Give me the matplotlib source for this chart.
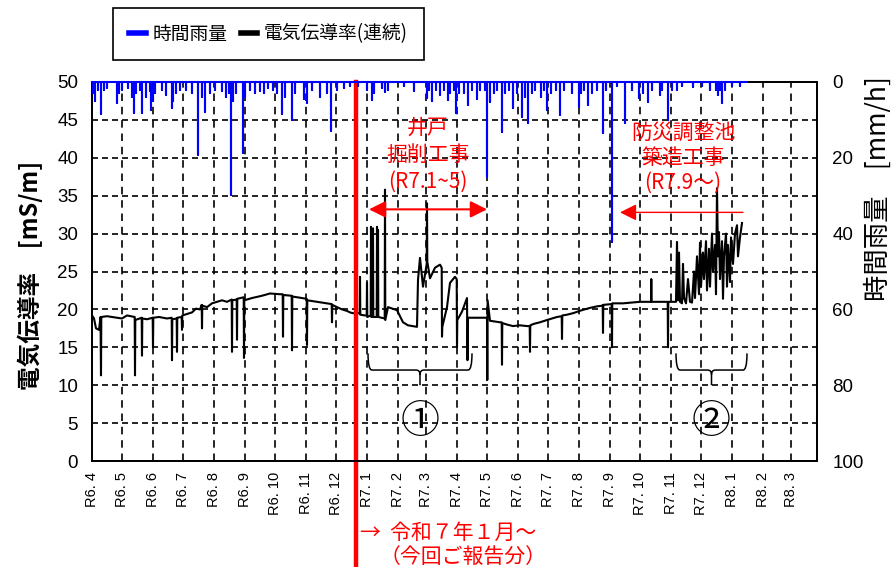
import numpy as np
import pandas as pd
import matplotlib
matplotlib.use("Agg")
import matplotlib.pyplot as plt
from matplotlib import font_manager
from matplotlib.lines import Line2D
from matplotlib.path import Path
from matplotlib.patches import PathPatch

# x axis = days since R6.4.1 (2024-04-01)
BASE = pd.Timestamp("2024-04-01")

# 電気伝導率 (連続) [mS/m]
cond_day = [0, 2, 4, 7, 8.5, 9, 9.3, 15, 20, 25, 30, 35, 42.7, 43, 43.3, 49.7, 50, 50.3, 55,
            60.7, 61, 61.3, 67, 75, 79.7, 80, 80.3, 84.7, 85, 85.3, 89.7, 90, 90.3, 95, 100, 104,
            108, 109.7, 110, 110.3, 115, 120, 125, 130, 135, 139.7, 140, 140.3, 144.7, 145, 145.3,
            151.7, 152, 152.3, 160, 170, 178, 188, 190.7, 191, 191.3, 199.7, 200, 200.3, 205,
            214.7, 215, 215.3, 225, 230, 239.7, 240, 240.3, 245, 250, 255, 258, 261,
            267.7, 268, 268.3, 273, 274.7, 275, 275.3, 278.7, 279, 279.3, 280.7, 281, 281.3,
            284.7, 285, 285.3, 285.7, 286, 286.3, 292.7, 293, 293.3, 296, 305, 311, 316, 325, 326,
            328, 331, 334.7, 335, 335.3, 338, 343, 348, 349.7, 350, 350.3, 355, 358, 363, 364.7,
            365, 365.3, 370, 375, 375.5, 376, 395, 395.3, 395.6, 398, 403, 408, 409.7, 410, 410.3,
            415, 421, 428, 435, 437.7, 438, 438.3, 442, 448, 455, 465, 469.7, 470, 470.3, 475, 481,
            490, 498, 505, 510.7, 511, 511.3, 519.7, 520, 520.3, 531, 540, 548, 559, 559.3, 559.6,
            575.7, 576, 576.3, 584, 585, 586, 587, 588, 590, 591, 592, 594, 596, 598, 600, 602,
            603, 605, 607, 608, 609, 611, 612, 614, 615, 617, 618, 620, 621, 623, 624, 625, 626,
            627, 628, 630, 631, 632, 634, 635, 636, 638, 639, 641, 643, 645, 646, 648, 650]
cond_val = [19.2, 18.8, 17.5, 17.3, 19.0, 11.3, 19.0, 19.1, 19.0, 18.9, 18.8, 19.2, 19.0, 11.3,
            18.6, 18.9, 13.9, 18.8, 18.7, 18.9, 15.0, 18.9, 19.0, 18.8, 18.9, 13.3, 18.7, 18.8,
            14.4, 18.9, 19.0, 17.3, 19.2, 19.4, 19.6, 20.1, 20.0, 20.6, 17.5, 20.5, 20.3, 20.8,
            21.0, 21.2, 21.0, 21.3, 14.4, 21.2, 21.3, 16.0, 21.4, 21.6, 13.6, 21.2, 21.5, 21.8,
            22.1, 22.0, 22.0, 16.4, 21.9, 21.8, 14.6, 21.7, 21.6, 21.4, 15.3, 21.2, 21.0, 20.9,
            20.7, 18.3, 20.6, 20.3, 20.0, 19.8, 19.6, 19.5,
            19.5, 24.3, 19.3, 19.2, 19.2, 23.5, 19.0, 19.2, 30.9, 19.0, 19.1, 30.7, 19.0,
            19.0, 30.9, 19.0, 19.1, 30.5, 19.0, 18.8, 35.8, 18.6, 20.3, 19.9, 18.3, 17.9, 17.7,
            23.9, 26.8, 23.0, 26.0, 34.0, 26.3, 24.1, 25.5, 25.9, 25.5, 16.4, 17.7, 20.3, 23.5,
            24.3, 24.0, 15.0, 18.6, 19.7, 21.5, 13.3, 18.9, 18.9, 10.7, 21.2, 18.5, 18.4, 18.3,
            18.3, 12.7, 18.2, 18.0, 17.8, 17.9, 17.8, 17.8, 14.4, 17.9, 18.1, 18.3, 18.6, 19.0,
            19.1, 16.1, 19.2, 19.3, 19.5, 19.9, 20.2, 20.4, 20.5, 16.9, 20.6, 20.7, 15.0, 20.8,
            20.8, 20.9, 21.0, 21.0, 24.0, 21.0, 21.0, 15.0, 21.0, 21.0, 28.9, 21.2, 27.5, 21.0,
            20.8, 26.0, 21.5, 20.8, 24.0, 21.0, 20.9, 25.0, 21.5, 27.0, 22.0, 28.8, 23.0, 27.5,
            24.0, 29.0, 22.5, 28.0, 23.0, 30.0, 25.0, 28.5, 22.0, 36.0, 27.0, 30.2, 24.0, 29.0,
            21.4, 27.0, 30.0, 23.0, 28.5, 23.6, 29.5, 26.0, 30.0, 31.1, 27.0, 29.5, 31.4]

# 時間雨量 [mm/h]
rain_day = [1, 3, 6, 9, 12, 15, 25, 27, 30, 36, 40, 42, 44, 48, 50, 54, 58, 59, 61, 63, 70, 74,
            80, 81, 84, 88, 94, 100, 106, 110, 113, 118, 123, 130, 134, 137, 139, 141, 144, 151,
            153, 158, 163, 168, 172, 176, 181, 185, 190, 193, 200, 203, 212, 215, 220, 228, 235,
            239, 245, 252, 258, 266, 275, 280, 282, 290, 293, 296, 312, 322, 335, 337, 340, 344,
            348, 352, 356, 358, 362, 364, 367, 372, 376, 380, 385, 388, 393, 395, 398, 402, 405,
            410, 413, 417, 421, 425, 430, 433, 436, 440, 443, 449, 452, 455, 459, 464, 468, 472,
            480, 487, 489, 492, 496, 500, 505, 511, 514, 520, 525, 533, 540, 547, 551, 556, 560,
            568, 570, 576, 580, 585, 590, 601, 610, 618, 624, 626, 628, 630, 633, 640, 648]
rain_mm = [3, 5, 2, 8.4, 2, 1.5, 5.6, 3, 2, 1.5, 4, 8.2, 3, 2, 8.2, 4, 2.5, 7.4, 5, 3, 2, 3.5,
           6.9, 5, 3, 2, 2, 3, 19.3, 4, 7.9, 3, 2, 2.5, 4, 3, 29.8, 5, 3, 18.7, 4, 2, 3, 2.5, 3,
           1.5, 2, 3, 8.4, 4, 10.0, 3, 4.5, 5.6, 2, 4, 3, 12.9, 2, 1.5, 1, 1, 2, 4.7, 3, 1.5, 2.6,
           2, 1, 2.5, 4.2, 2, 5, 2, 3.4, 2, 4.7, 3, 2, 8.2, 3, 3, 6, 2, 4.6, 2, 2, 25, 5.2, 3, 2,
           13.2, 3, 2, 6.9, 3, 9.2, 4, 10.8, 3, 2, 4, 2, 7.4, 3, 2, 8.7, 2, 3, 6.6, 3, 2, 6, 3, 2,
           13.5, 2, 42.2, 1, 10.8, 2, 4.2, 3, 5.2, 2, 3.4, 2, 10, 2, 2.1, 1, 1.3, 1, 2.1, 2, 3.4,
           2, 5.6, 2, 1, 1]
rain_end_day = 655

month_labels = ["R6. 4", "R6. 5", "R6. 6", "R6. 7", "R6. 8", "R6. 9", "R6. 10", "R6. 11",
                "R6. 12", "R7. 1", "R7. 2", "R7. 3", "R7. 4", "R7. 5", "R7. 6", "R7. 7",
                "R7. 8", "R7. 9", "R7. 10", "R7. 11", "R7. 12", "R8. 1", "R8. 2", "R8. 3"]

report_day = 264          # 令和7年1月～ の区切り線
well_span = (277, 395)     # 井戸掘削工事 矢印
pond_span = (651, 528)     # 防災調整池築造工事 矢印
brace1 = (276, 380)
brace2 = (584, 655)

plt.rcParams['font.family'] = ['Noto Sans CJK JP', 'DejaVu Sans']
names = {f.name for f in font_manager.fontManager.ttflist}
NUM_FONT = "Liberation Sans Narrow" if "Liberation Sans Narrow" in names else "Liberation Sans"

month_days = [(d - BASE).days for d in pd.date_range("2024-04-01", periods=24, freq="MS")]

fig = plt.figure(figsize=(8.91, 5.67), dpi=100)
ax = fig.add_axes([92 / 891, 1 - 461 / 567, 725 / 891, 379 / 567])
ax2 = ax.twinx()

ax.set_xlim(0, 725)
ax.set_ylim(0, 50)
ax2.set_ylim(100, 0)

# grid
ax.set_yticks(np.arange(0, 51, 5))
ax.set_yticklabels([str(v) for v in range(0, 51, 5)], fontfamily=NUM_FONT, fontsize=13.5)
ax.set_xticks(month_days)
ax.set_xticklabels(month_labels, rotation=90, fontfamily=NUM_FONT, fontsize=10.5, va="top")
ax.grid(axis="y", color="black", linestyle=(0, (3.6, 2.4)), linewidth=1.2)
ax.grid(axis="x", color="black", linestyle=(0, (4.5, 3.5)), linewidth=1.2)
ax.tick_params(axis="y", length=0, pad=10)
ax.tick_params(axis="x", length=0, pad=8)
ax.set_axisbelow(True)

ax2.set_yticks(np.arange(0, 101, 20))
ax2.set_yticklabels([str(v) for v in range(0, 101, 20)], fontfamily=NUM_FONT, fontsize=13.5)
ax2.tick_params(axis="y", length=0, pad=11)

for a in (ax, ax2):
    for s in a.spines.values():
        s.set_linewidth(1.3)
        s.set_color("black")

# conductivity
ax.plot(cond_day, cond_val, color="black", linewidth=1.5, zorder=3)

# rainfall hanging from the top
order = np.argsort(rain_day)
rx, ry = [0], [0]
for i in order:
    rx += [rain_day[i], rain_day[i], rain_day[i]]
    ry += [0, rain_mm[i], 0]
rx.append(rain_end_day)
ry.append(0)
ax2.plot(rx, ry, color="#0000FF", linewidth=1.5, clip_on=False, zorder=3)

# report divider line
ax.plot([report_day, report_day], [1, -0.3], transform=ax.get_xaxis_transform(),
        color="#FF0000", linewidth=3.2, clip_on=False, zorder=5)

red = "#FF0000"
# 井戸掘削工事
ax.annotate("", xy=(well_span[1], 33.2), xytext=(well_span[0], 33.2),
            arrowprops=dict(arrowstyle="<|-|>,head_length=0.5,head_width=0.25", color=red,
                            lw=1.5, mutation_scale=20, shrinkA=0, shrinkB=0))
mid1 = (well_span[0] + well_span[1]) / 2
for txt, yv in [("井戸", 43.9), ("掘削工事", 40.4), ("(R7.1~5)", 36.8)]:
    ax.text(mid1, yv, txt, color=red, fontsize=15, ha="center", va="center")

# 防災調整池築造工事
ax.annotate("", xy=(pond_span[1], 32.8), xytext=(pond_span[0], 32.8),
            arrowprops=dict(arrowstyle="-|>,head_length=0.5,head_width=0.25", color=red,
                            lw=1.0, mutation_scale=20, shrinkA=0, shrinkB=0))
for txt, yv in [("防災調整池", 43.3), ("築造工事", 40.0), ("(R7.9～)", 36.7)]:
    ax.text(591, yv, txt, color=red, fontsize=15, ha="center", va="center")


def draw_brace(a, x0, x1, y_top=14.2, y_mid=12.0, y_tip=10.0):
    xm = (x0 + x1) / 2
    r = 4
    verts = [(x0, y_top), (x0, y_mid), (x0 + r, y_mid),
             (xm - r, y_mid), (xm, y_mid), (xm, y_mid - 0.6),
             (xm, y_tip),
             (xm, y_mid - 0.6), (xm, y_mid), (xm + r, y_mid),
             (x1 - r, y_mid), (x1, y_mid), (x1, y_top)]
    codes = [Path.MOVETO, Path.CURVE3, Path.CURVE3,
             Path.LINETO, Path.CURVE3, Path.CURVE3,
             Path.LINETO,
             Path.MOVETO, Path.CURVE3, Path.CURVE3,
             Path.LINETO, Path.CURVE3, Path.CURVE3]
    a.add_patch(PathPatch(Path(verts, codes), fill=False, edgecolor="black", lw=1.1, zorder=4))
    return xm


m1 = draw_brace(ax, *brace1)
m2 = draw_brace(ax, *brace2)
ax.text(m1, 5.1, "①", fontsize=28, ha="center", va="center")
ax.text(m2, 5.1, "②", fontsize=28, ha="center", va="center")

# axis titles
fig.text(30 / 891, 1 - 275 / 567, "電気伝導率　[mS/m]", rotation=90, fontsize=17,
         fontweight="bold", ha="center", va="center")
fig.text(878 / 891, 1 - 189 / 567, "時間雨量　[mm/h]", rotation=90, fontsize=19,
         ha="center", va="center")

# bottom note
fig.text(360 / 891, 1 - 533 / 567, "→  令和７年１月～", color=red, fontsize=15, va="center")
fig.text(380 / 891, 1 - 557 / 567, "（今回ご報告分）", color=red, fontsize=15, va="center")

# legend
handles = [Line2D([], [], color="#0000FF", lw=4), Line2D([], [], color="black", lw=4)]
leg = fig.legend(handles, ["時間雨量", "電気伝導率(連続)"], loc="center",
                 bbox_to_anchor=(268.5 / 891, 1 - 34 / 567), ncol=2, fontsize=13.5,
                 frameon=True, fancybox=False, edgecolor="black", framealpha=1,
                 handlelength=0.9, handletextpad=0.35, columnspacing=0.7, borderpad=0.85)
leg.get_frame().set_linewidth(1.2)

fig.savefig("out.png", dpi=100)
